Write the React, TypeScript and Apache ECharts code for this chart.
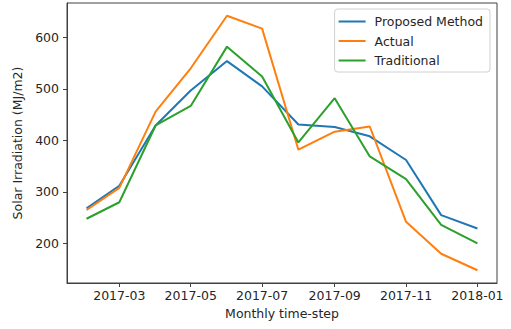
import React, { useEffect, useRef } from "react";
import * as echarts from "echarts";

const months: string[] = [
  "2017-02", "2017-03", "2017-04", "2017-05", "2017-06", "2017-07",
  "2017-08", "2017-09", "2017-10", "2017-11", "2017-12", "2018-01",
];
const proposed: number[] = [268, 312, 429, 497, 554, 505, 431, 426, 408, 362, 255, 229];
const actual: number[] = [265, 308, 456, 540, 642, 617, 382, 417, 427, 242, 180, 148];
const traditional: number[] = [248, 280, 429, 467, 582, 524, 396, 482, 369, 325, 236, 200];
const xTicks: string[] = ["2017-03", "2017-05", "2017-07", "2017-09", "2017-11", "2018-01"];
const yTicks: number[] = [200, 300, 400, 500, 600];

const toTs = (m: string) => {
  const [y, mo] = m.split("-").map(Number);
  return Date.UTC(y, mo - 1, 1);
};
const fmt = (v: number) => {
  const d = new Date(v);
  return d.getUTCFullYear() + "-" + String(d.getUTCMonth() + 1).padStart(2, "0");
};

export default function App() {
  const ref = useRef<HTMLDivElement>(null);
  useEffect(() => {
    if (!ref.current) return;
    const chart = echarts.init(ref.current, null, { renderer: "svg" });
    const xs = months.map(toTs);
    const xSpan = xs[xs.length - 1] - xs[0];
    const all = [...proposed, ...actual, ...traditional];
    const yMinD = Math.min(...all);
    const yMaxD = Math.max(...all);
    const ySpan = yMaxD - yMinD;
    const font = "DejaVu Sans";
    const txt = "#262626";
    const fs = 12.5;
    const mk = (name: string, vals: number[], color: string) => ({
      name,
      type: "line",
      data: xs.map((x, i) => [x, vals[i]]),
      showSymbol: false,
      symbol: "none",
      lineStyle: { color, width: 2 },
      itemStyle: { color },
    });
    chart.setOption({
      animation: false,
      backgroundColor: "#fff",
      textStyle: { fontFamily: font },
      grid: {
        left: 67, right: 14, top: 3, bottom: 46, containLabel: false,
        show: true, borderColor: "#404040", borderWidth: 1, backgroundColor: "transparent",
      },
      legend: {
        orient: "vertical",
        top: 9,
        right: 21,
        padding: [6, 7, 5, 4],
        itemGap: 6.5,
        itemWidth: 27,
        itemHeight: 2,
        icon: "rect",
        borderColor: "#d0d0d0",
        borderWidth: 1,
        borderRadius: 3,
        backgroundColor: "rgba(255,255,255,0.8)",
        textStyle: { fontFamily: font, fontSize: fs, color: txt, padding: [0, 0, 0, 4] },
        data: ["Proposed Method", "Actual", "Traditional"],
      },
      xAxis: {
        type: "value",
        min: xs[0] - 0.05 * xSpan,
        max: xs[xs.length - 1] + 0.05 * xSpan,
        name: "Monthly time-step",
        nameLocation: "middle",
        nameGap: 24,
        nameTextStyle: { fontFamily: font, fontSize: fs, color: txt },
        axisLine: { onZero: false, lineStyle: { color: "#404040", width: 1 } },
        axisTick: { show: true, length: 4, lineStyle: { color: "#404040" }, customValues: xTicks.map(toTs) },
        axisLabel: {
          fontFamily: font, fontSize: fs, color: txt, margin: 6,
          customValues: xTicks.map(toTs),
          formatter: (v: number) => fmt(v),
        },
        splitLine: { show: false },
      },
      yAxis: {
        type: "value",
        min: yMinD - 0.05 * ySpan,
        max: yMaxD + 0.05 * ySpan,
        name: "Solar Irradiation (MJ/m2)",
        nameLocation: "middle",
        nameGap: 37,
        nameTextStyle: { fontFamily: font, fontSize: fs, color: txt },
        axisLine: { show: true, onZero: false, lineStyle: { color: "#404040", width: 1 } },
        axisTick: { show: true, length: 4, lineStyle: { color: "#404040" }, customValues: yTicks },
        axisLabel: { fontFamily: font, fontSize: fs, color: txt, margin: 8, customValues: yTicks },
        splitLine: { show: false },
      },
      series: [
        mk("Proposed Method", proposed, "#1f77b4"),
        mk("Actual", actual, "#ff7f0e"),
        mk("Traditional", traditional, "#2ca02c"),
      ],
    });
    return () => chart.dispose();
  }, []);
  return (
    <div
      ref={ref}
      style={{ position: "fixed", left: 0, top: 0, width: 511, height: 329, background: "#fff" }}
    />
  );
}
